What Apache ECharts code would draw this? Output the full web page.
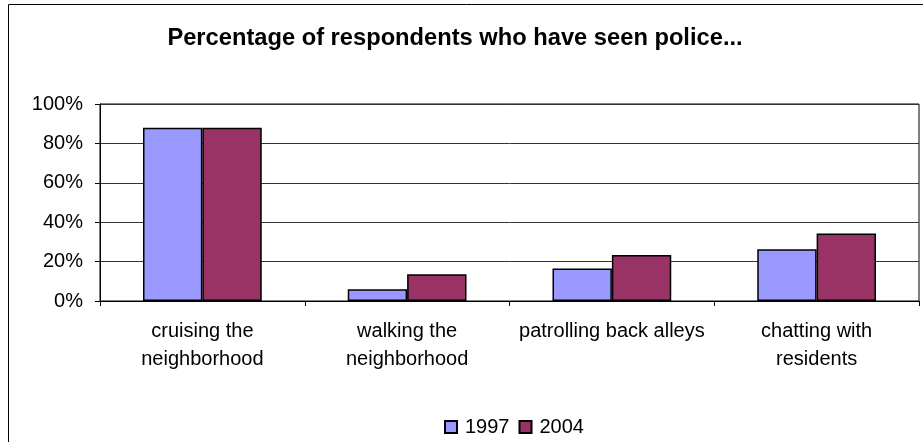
<!DOCTYPE html>
<html>
<head>
<meta charset="utf-8">
<script src="https://cdn.jsdelivr.net/npm/echarts@6/dist/echarts.min.js"></script>
<style>
  html, body { margin: 0; padding: 0; background: #fff; }
  #main { width: 923px; height: 442px; }
</style>
</head>
<body>
<div id="main"></div>
<script>
// 类别和数据
const categories = ['cruising the\nneighborhood', 'walking the\nneighborhood', 'patrolling back alleys', 'chatting with\nresidents']
const years = ['1997', '2004']
const values1997 = [88, 6, 16.5, 26.3]
const values2004 = [88, 13.6, 23.4, 34.3]
const yTicks = [0, 20, 40, 60, 80, 100]
const colors = ['#9999FF', '#993366']

const font = '"Liberation Sans", Arial, sans-serif'
const chart = echarts.init(document.getElementById('main'))

const option = {
  animation: false,
  textStyle: { fontFamily: font, color: '#000' },
  title: {
    text: 'Percentage of respondents who have seen police...',
    left: 450,
    textAlign: 'center',
    top: 21,
    textStyle: { fontFamily: font, fontSize: 23.7, fontWeight: 'bold', color: '#000' }
  },
  graphic: [{
    type: 'rect',
    shape: { x: 8.5, y: 4.5, width: 1000, height: 1000 },
    style: { fill: 'none', stroke: '#000', lineWidth: 1 },
    silent: true
  }],
  legend: {
    data: years,
    left: 439,
    top: 412,
    itemWidth: 12,
    itemHeight: 12,
    itemGap: 9,
    icon: 'rect',
    textStyle: { fontFamily: font, fontSize: 20, color: '#000', padding: [0, 0, 0, 3] }
  },
  grid: {
    left: 100,
    right: 4,
    top: 104,
    bottom: 141,
    show: true,
    borderColor: '#000',
    borderWidth: 1
  },
  xAxis: {
    type: 'category',
    data: categories,
    axisLine: { lineStyle: { color: '#000', width: 1 } },
    axisTick: { show: true, length: 5, lineStyle: { color: '#000' } },
    axisLabel: { fontFamily: font, fontSize: 20, color: '#000', lineHeight: 28, margin: 16, interval: 0 }
  },
  yAxis: {
    type: 'value',
    min: yTicks[0],
    max: yTicks[yTicks.length - 1],
    interval: yTicks[1] - yTicks[0],
    axisLine: { show: true, lineStyle: { color: '#000' } },
    axisTick: { show: true, length: 5, lineStyle: { color: '#000' } },
    axisLabel: { fontFamily: font, fontSize: 20, color: '#000', margin: 17, formatter: '{value}%' },
    splitLine: { show: true, lineStyle: { color: '#333', width: 1 } }
  },
  series: [
    {
      name: years[0],
      type: 'bar',
      data: values1997,
      barGap: '0%',
      barCategoryGap: '42%',
      itemStyle: { color: colors[0], borderColor: '#000', borderWidth: 1.5 }
    },
    {
      name: years[1],
      type: 'bar',
      data: values2004,
      itemStyle: { color: colors[1], borderColor: '#000', borderWidth: 1.5 }
    }
  ]
}

chart.setOption(option)
</script>
</body>
</html>
